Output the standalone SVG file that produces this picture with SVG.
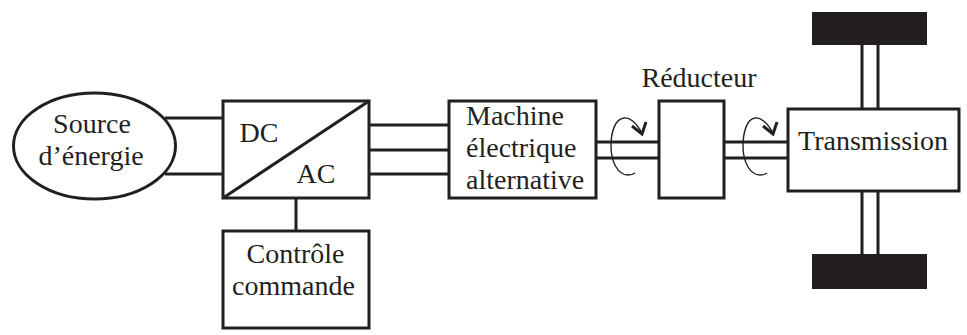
<svg xmlns="http://www.w3.org/2000/svg" width="967" height="335" viewBox="0 0 967 335">
<style>
.b{fill:#fff;stroke:#231f20;stroke-width:3}
.l{fill:none;stroke:#231f20;stroke-width:3}
.a{fill:none;stroke:#231f20;stroke-width:1.4}
.w{fill:#231f20;stroke:none}
text{font-family:"Liberation Serif","Times New Roman",serif;font-size:28px;fill:#231f20;text-anchor:middle}
text.s{text-anchor:start}
</style>
<rect width="967" height="335" fill="#fff"/>
<g id="connectors">
<path class="l" d="M165 118H223M165 174H223M369 125H449M369 150H449M369 174H449M296 198V231M596 142H659M596 158H659M724 142H788M724 158H788M862 45V109M878 45V109M862 191V254M878 191V254"/>
<path class="a" d="M642 133C636 122 629 117 624 118C615 119 611 132 611 146C611 162 618 175 628 175C631 175 633 174.500 635 173"/>
<path class="l" d="M632 126L642 134L646 122"/>
<path class="a" d="M773 133C767 122 760 117 755 118C747 119 743 132 743 146C743 162 750 175 760 175C763 175 765 174.500 767 173"/>
<path class="l" d="M763 126L773 134L777 122"/>
</g>
<g id="source"><ellipse class="b" cx="94.500" cy="146" rx="81" ry="53"/><text x="92" y="133">Source</text><text x="91" y="165">d’énergie</text></g>
<g id="convertisseur"><rect class="b" x="223" y="101" width="146" height="97"/><path class="l" d="M223 198L369 101"/><text x="259" y="142">DC</text><text x="316" y="183">AC</text></g>
<g id="controle"><rect class="b" x="223" y="231" width="146" height="97"/><text x="295.500" y="263">Contrôle</text><text x="293.500" y="295">commande</text></g>
<g id="machine"><rect class="b" x="449" y="101" width="147" height="97"/><text class="s" x="466" y="125">Machine</text><text class="s" x="466" y="157">électrique</text><text class="s" x="466" y="189">alternative</text></g>
<g id="reducteur"><rect class="b" x="659" y="101" width="65" height="97"/><text x="699" y="87">Réducteur</text></g>
<g id="transmission"><rect class="b" x="788" y="109" width="171" height="82"/><text x="873" y="150">Transmission</text></g>
<g id="roue-haut"><rect class="w" x="812" y="12" width="115" height="33"/></g>
<g id="roue-bas"><rect class="w" x="812" y="254" width="115" height="35"/></g>
</svg>
